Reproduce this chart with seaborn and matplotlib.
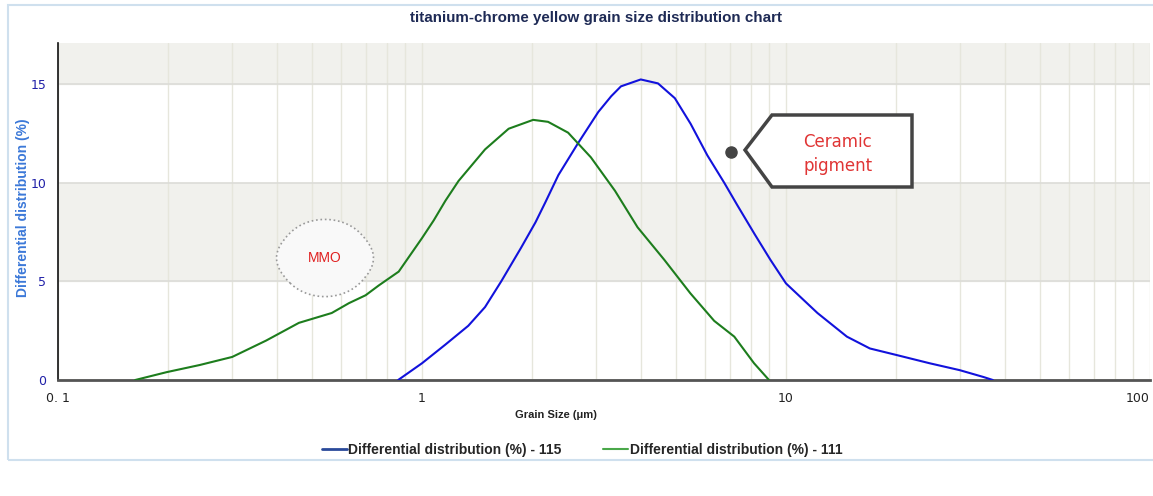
import numpy as np
import pandas as pd
import matplotlib
matplotlib.use("Agg")
import matplotlib.pyplot as plt
import seaborn as sns
from matplotlib.patches import Polygon, Rectangle
from matplotlib.lines import Line2D
from matplotlib.ticker import LogLocator, NullFormatter

# values
size_115 = [0.86, 1.0, 1.16, 1.34, 1.49, 1.65, 1.87, 2.05, 2.18, 2.37, 2.68, 3.05, 3.31, 3.52, 3.99,
            4.45, 4.95, 5.47, 6.08, 6.77, 7.36, 8.2, 9.06, 10.0, 12.2, 14.7, 17.0, 20.1, 24.8, 30.0, 34.9, 37.0]
dist_115 = [0.0, 0.85, 1.8, 2.75, 3.7, 5.0, 6.7, 8.0, 9.0, 10.4, 12.0, 13.6, 14.4, 14.9, 15.25,
            15.05, 14.3, 13.0, 11.4, 10.0, 8.85, 7.4, 6.1, 4.9, 3.4, 2.2, 1.6, 1.27, 0.85, 0.5, 0.15, 0.0]

size_111 = [0.163, 0.199, 0.245, 0.301, 0.373, 0.459, 0.565, 0.63, 0.70, 0.761, 0.863, 1.0, 1.077, 1.16,
            1.26, 1.49, 1.73, 2.02, 2.22, 2.52, 2.91, 3.39, 3.91, 4.63, 5.46, 6.35, 7.21, 8.17, 8.98]
dist_111 = [0.0, 0.4, 0.76, 1.17, 2.0, 2.9, 3.4, 3.9, 4.3, 4.8, 5.5, 7.2, 8.1, 9.1,
            10.1, 11.7, 12.75, 13.2, 13.1, 12.55, 11.3, 9.6, 7.75, 6.1, 4.4, 3.0, 2.2, 0.85, 0.0]

label_115 = "Differential distribution (%) - 115"
label_111 = "Differential distribution (%) - 111"

df = pd.concat([
    pd.DataFrame({"size": size_115, "dist": dist_115, "series": label_115}),
    pd.DataFrame({"size": size_111, "dist": dist_111, "series": label_111}),
])

sns.set_style("white")
plt.rcParams["font.family"] = ["Liberation Sans", "DejaVu Sans"]

W, H = 1153, 496
fig = plt.figure(figsize=(W / 100, H / 100), dpi=100)
ax = fig.add_axes([58 / W, 1 - 380 / H, (1150 - 58) / W, (380 - 43) / H])


def fx(px):
    return px / W


def fy(py):
    return 1 - py / H


# outer frame of the chart panel
fig.patches.append(Rectangle((fx(8), fy(460)), fx(1180) - fx(8), fy(5) - fy(460),
                             transform=fig.transFigure, fill=False, ec="#cfe0ee", lw=1.5))

ax.axhspan(15, 17.1, color="#f1f1ed", zorder=0)
ax.axhspan(5, 10, color="#f1f1ed", zorder=0)

sns.lineplot(data=df, x="size", y="dist", hue="series", sort=False,
             palette={label_115: "#1212dc", label_111: "#1d7d1d"},
             linewidth=1.5, ax=ax, legend=False, zorder=3)

ax.set_xscale("log")
ax.set_xlim(0.1, 100)
ax.set_ylim(0, 17.1)
ax.set_xticks([0.1, 1, 10, 100])
ax.set_xticklabels(["0. 1", "1", "10", "100"], fontsize=9, color="#222222", family="DejaVu Sans")
ax.xaxis.set_minor_locator(LogLocator(base=10, subs=np.arange(2, 10)))
ax.xaxis.set_minor_formatter(NullFormatter())
ax.get_xticklabels()[-1].set_horizontalalignment("right")
ax.set_yticks([0, 5, 10, 15])
ax.set_yticklabels(["0", "5", "10", "15"], fontsize=9, color="#2020a8", family="DejaVu Sans")

ax.grid(True, which="both", axis="x", color="#e6e6dc", lw=1, zorder=1)
ax.grid(True, which="major", axis="y", color="#dcdcd8", lw=1.2, zorder=1)
ax.tick_params(axis="x", which="major", direction="out", length=5, width=1, color="#333333")
ax.tick_params(axis="x", which="minor", direction="out", length=3, width=1, color="#333333")
ax.tick_params(axis="y", direction="out", length=5, width=1, color="#333333")

for s in ["top", "right"]:
    ax.spines[s].set_visible(False)
ax.spines["left"].set_color("#111111")
ax.spines["left"].set_linewidth(1.2)
ax.spines["bottom"].set_color("#555555")
ax.spines["bottom"].set_linewidth(2)

ax.set_xlabel("Grain Size (\u03bcm)", fontsize=8, fontweight="bold", color="#222222")
ax.xaxis.set_label_coords((556 - 58) / 1092, -(410 - 380) / 337)
ax.set_ylabel("Differential distribution (%)", fontsize=10, fontweight="bold", color="#3b78d8")
ax.yaxis.set_label_coords(-(58 - 30) / 1092, (380 - 208) / 337)

fig.text(fx(596), fy(18), "titanium-chrome yellow grain size distribution chart",
         ha="center", va="center", fontsize=10.9, fontweight="bold", color="#1e2a55")

# MMO cloud note
fig.text(fx(325), fy(258), "MMO", ha="center", va="center", fontsize=10, color="#e02020",
         bbox=dict(boxstyle="round4,pad=2.6", fc="#f9f9f9", ec="#999999", ls=":", lw=1.2))

# Ceramic pigment callout
pts = [(745, 150), (772, 115), (912, 115), (912, 187), (772, 187)]
fig.patches.append(Polygon([(fx(x), fy(y)) for x, y in pts], closed=True, transform=fig.transFigure,
                           fc="white", ec="#444444", lw=2.5, zorder=5))
fig.add_artist(Line2D([fx(731)], [fy(152)], marker="o", ms=8, color="#444444",
                      transform=fig.transFigure, zorder=5))
fig.text(fx(838), fy(154), "Ceramic\npigment", ha="center", va="center", fontsize=12,
         color="#e03535", linespacing=1.45, zorder=6, family="DejaVu Sans")

# legend
handles = [Line2D([], [], color="#2a4a9a", lw=2), Line2D([], [], color="#4aa84a", lw=1.5)]
fig.legend(handles, [label_115, label_111], loc="center", bbox_to_anchor=(fx(582), fy(450)),
           ncol=2, frameon=False, handlelength=1.8, handletextpad=0.1, columnspacing=3.0,
           prop={"size": 10, "weight": "bold"})

fig.savefig("out.png", dpi=100)
